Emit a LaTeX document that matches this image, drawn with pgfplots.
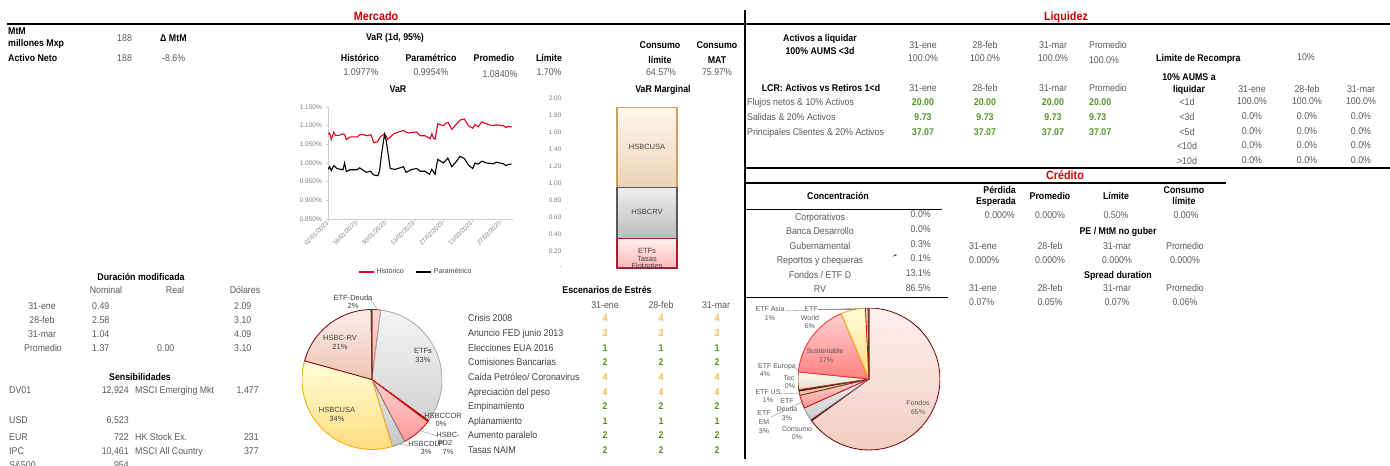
\documentclass[border=0pt]{standalone}
\usepackage{fontspec}
\setmainfont{Liberation Sans}[FakeStretch=0.9]
\newfontfamily\lab{Liberation Sans}
\usepackage{pgfplots}
\usepackage{pgfplotstable}
\pgfplotsset{compat=1.18}
\definecolor{txt}{HTML}{595959}
\definecolor{lbl}{HTML}{404040}
\definecolor{redT}{HTML}{CC0000}
\definecolor{grn}{HTML}{549628}
\definecolor{org}{HTML}{F5B946}
\definecolor{axg}{HTML}{D0D0D0}
\definecolor{tkl}{HTML}{7F7F7F}
\definecolor{histred}{HTML}{E2001A}
\definecolor{usaB}{HTML}{C9A15F}
\definecolor{etfB}{HTML}{A32232}

\pgfplotstableread{
d v
0 1.078
0.8 1.080
1.6 1.063
2.8 1.083
3.6 1.074
5.2 1.074
7.3 1.078
8.1 1.076
8.9 1.063
10.8 1.070
14.1 1.070
15.7 1.076
17.3 1.076
18.9 1.073
20.9 1.076
22.2 1.055
24.1 1.057
25.4 1.070
27.5 1.078
28.3 1.072
29.0 1.063
31.9 1.078
34.3 1.083
36.7 1.087
38.0 1.083
39.2 1.080
40.8 1.082
43.2 1.083
44.8 1.073
47.2 1.073
48.9 1.068
49.7 1.065
50.5 1.078
51.3 1.066
52.1 1.064
53.4 1.105
56.1 1.100
57.8 1.108
58.6 1.108
60.2 1.090
61.8 1.100
64.2 1.115
66.3 1.118
68.3 1.100
70.4 1.093
71.5 1.103
73.1 1.097
74.8 1.110
77.2 1.105
79.6 1.100
82.0 1.102
85.3 1.100
86.6 1.095
87.7 1.098
89.3 1.097
}\histtab

\pgfplotstableread{
d v
0 0.983
0.8 0.990
1.6 0.980
2.8 0.993
4.4 0.985
7.3 0.982
8.1 1.000
8.9 0.977
10.8 0.982
14.1 0.982
15.4 0.987
17.3 0.980
18.6 0.975
20.6 0.978
22.2 0.968
24.3 0.966
25.1 0.980
26.2 1.030
27.5 1.077
28.3 1.060
30.3 0.985
32.7 0.983
36.7 0.990
38.0 0.975
40.8 0.983
43.2 0.985
44.8 0.978
47.2 0.978
49.4 0.970
50.5 0.983
52.1 0.970
53.4 1.010
56.1 1.000
58.3 1.013
60.2 0.990
62.6 1.005
64.2 1.018
66.3 1.012
68.3 0.995
70.4 0.985
71.5 1.000
73.1 0.997
74.8 1.005
77.2 1.000
80.4 0.998
82.0 1.002
85.3 0.998
86.6 0.993
87.7 0.996
89.3 0.997
}\paramtab

% pie slice between cumulative percentages #1 and #2 (clockwise from 12 o'clock)
\newcommand\slice[3]{\addplot[#3, line width=0.8pt, line join=round, domain=90-3.6*#2:90-3.6*#1, samples=40] ({cos(x)},{sin(x)}) -- (0,0) -- cycle;}

\begin{document}
\begin{tikzpicture}
\path[use as bounding box] (0pt,0pt) rectangle (1390pt,-466pt);

% ---------------- VaR line chart
\begin{axis}[at={(328pt,-219pt)}, anchor=south west, scale only axis,
  width=185pt, height=112pt, xmin=0, xmax=90, ymin=0.85, ymax=1.15,
  axis x line*=bottom, axis y line*=left,
  axis line style={axg, line width=0.7pt},
  tick style={axg, line width=0.6pt}, tick align=outside, major tick length=2.5pt,
  ytick={0.85,0.90,0.95,1.00,1.05,1.10,1.15},
  yticklabels={0.850\%,0.900\%,0.950\%,1.000\%,1.050\%,1.100\%,1.150\%},
  xtick={0,14,28,42,56,70,84},
  xticklabels={02/01/2023,16/01/2023,30/01/2023,13/02/2023,27/02/2023,13/03/2023,27/03/2023},
  y tick label style={font=\lab\fontsize{6.6}{7}\selectfont, text=tkl},
  x tick label style={font=\lab\fontsize{6.2}{7}\selectfont, text=tkl, rotate=45, anchor=east, inner sep=1pt},
  legend style={at={(0.476,-0.473)}, anchor=center, draw=none, fill=none,
    legend columns=2, font=\lab\fontsize{7}{8}\selectfont, text=lbl,
    /tikz/every even column/.append style={column sep=10pt}},
  legend image code/.code={\draw[#1] (0pt,0pt) -- (15pt,0pt);}]
\addplot[histred, line width=1.1pt] table[x=d,y=v] {\histtab};
\addlegendentry{Histórico}
\addplot[black, line width=1.1pt] table[x=d,y=v] {\paramtab};
\addlegendentry{Paramétrico}
\end{axis}

% ---------------- VaR Marginal stacked bar
\begin{axis}[at={(565pt,-268pt)}, anchor=south west, scale only axis,
  width=164pt, height=170pt, xmin=-1, xmax=1, ymin=0, ymax=2,
  ybar stacked, bar width=60pt, axis line style={draw=none},
  xtick=\empty, major tick length=0pt,
  ytick={0,0.2,0.4,0.6,0.8,1.0,1.2,1.4,1.6,1.8,2.0},
  yticklabels={-,0.20,0.40,0.60,0.80,1.00,1.20,1.40,1.60,1.80,2.00},
  y tick label style={font=\lab\fontsize{6.5}{7}\selectfont, text=tkl}]
\addplot[draw=etfB, line width=1.1pt, top color=red!6, bottom color=red!28!white] coordinates {(0,0.35)};
\addplot[draw=black!65, line width=1.1pt, top color=black!7, bottom color=black!26] coordinates {(0,0.60)};
\addplot[draw=usaB, line width=1.1pt, top color=orange!7, bottom color=orange!22!brown!35!white] coordinates {(0,0.94)};
\end{axis}

% ---------------- Pie Mercado
\begin{axis}[at={(372pt,-379.5pt)}, anchor=center, scale only axis, hide axis,
  width=140pt, height=140pt, xmin=-1, xmax=1, ymin=-1, ymax=1]
\slice{0}{2}{draw=red!85!black, top color=red!15, bottom color=red!35}
\slice{2}{35}{draw=black!35, top color=black!4, bottom color=black!18}
\slice{35}{35.3}{draw=red!70!black, fill=red!70!black}
\slice{35.3}{42.3}{draw=red!80!black, top color=red!18, bottom color=red!40}
\slice{42.3}{45.3}{draw=black!50, top color=black!8, bottom color=black!22}
\slice{45.3}{79.3}{draw=orange!70!yellow, top color=yellow!15, bottom color=yellow!45!orange!50}
\slice{79.3}{99.8}{draw=red!45!black, top color=red!8!white, bottom color=red!30!brown!35!white}
\slice{99.8}{100}{draw=brown!50!black, fill=brown!50!black}
\end{axis}

% ---------------- Pie Credito
\begin{axis}[at={(869pt,-379pt)}, anchor=center, scale only axis, hide axis,
  width=142pt, height=142pt, xmin=-1, xmax=1, ymin=-1, ymax=1]
\slice{0}{65}{draw=red!45!black, top color=red!6, bottom color=red!28!brown!30!white}
\slice{65}{65.3}{draw=red!40!black, fill=red!40!black}
\slice{65.3}{68.3}{draw=black!45, top color=black!5, bottom color=black!20}
\slice{68.3}{71.3}{draw=red!85!black, top color=red!18, bottom color=red!40}
\slice{71.3}{72.3}{draw=brown!50!black, fill=brown!45}
\slice{72.3}{72.6}{draw=red!50!black, fill=red!50!black}
\slice{72.6}{76.6}{draw=brown!60!black, top color=brown!5, bottom color=brown!30}
\slice{76.6}{93.6}{draw=red!85, top color=red!18, bottom color=red!50}
\slice{93.6}{99.2}{draw=orange!70!yellow, top color=yellow!15, bottom color=yellow!45!orange!50}
\slice{99.2}{99.8}{draw=red!80!black, top color=red!10, bottom color=red!25}
\slice{99.8}{100}{draw=brown!50!black, fill=brown!50!black}
\end{axis}

\begin{scope}[x=1pt, y=-1pt,
  every node/.style={inner sep=0pt, text height=7pt, text depth=2pt, font=\fontsize{9.8}{11}\selectfont, text=txt},
  b/.style={font=\fontsize{9.8}{11}\selectfont\bfseries, text=black},
  w/.style={anchor=west}, e/.style={anchor=east},
  l/.style={text=lbl},
  r/.style={font=\fontsize{12}{13}\selectfont\bfseries, text=redT, text height=8.6pt, text depth=2.5pt},
  G/.style={font=\fontsize{9.8}{11}\selectfont\bfseries, text=grn},
  O/.style={font=\fontsize{9.8}{11}\selectfont\bfseries, text=org},
  s/.style={font=\lab\fontsize{7.5}{8}\selectfont, text height=5.4pt, text depth=1.6pt, text=lbl},
  s2/.style={font=\lab\fontsize{7}{8}\selectfont, text height=5pt, text depth=1.5pt, text=txt}]

% rules
\draw[line width=2.4pt] (7,24) -- (1390,24);
\draw[line width=1.4pt] (745,10) -- (745,459);
\draw[line width=2pt] (745,168) -- (1390,168);
\draw[line width=2pt] (745,183) -- (1226,183);
\draw[line width=0.8pt] (745,209) -- (942,209);
\draw[line width=0.8pt] (745,297) -- (948,297);

% titles
\node[r] at (376,17) {Mercado};
\node[r] at (1066,17) {Liquidez};
\node[r] at (1065,176) {Crédito};

% top-left
\node[b,w] at (8,32) {MtM};
\node[b,w] at (8,44) {millones Mxp};
\node[w] at (117,39) {188};
\node[b,w] at (160,39) {Δ MtM};
\node[b,w] at (8,59) {Activo Neto};
\node[w] at (117,59) {188};
\node[w] at (162,59) {-8.6\%};

% VaR header
\node[b] at (395,38) {VaR (1d, 95\%)};
\node[b] at (360,59) {Histórico};
\node[b] at (431,59) {Paramétrico};
\node[b] at (494,59) {Promedio};
\node[b] at (549,59) {Límite};
\node[b] at (660,46) {Consumo};
\node[b] at (660,61) {límite};
\node[b] at (717,46) {Consumo};
\node[b] at (717,61) {MAT};
\node at (361,73) {1.0977\%};
\node at (431,73) {0.9954\%};
\node at (500,75) {1.0840\%};
\node at (549,73) {1.70\%};
\node at (661,73) {64.57\%};
\node at (717,73) {75.97\%};
\node[b] at (398,90) {VaR};
\node[b] at (663,90) {VaR Marginal};

% bar labels
\node[s] at (647,148) {HSBCUSA};
\node[s] at (647,213) {HSBCRV};
\node[s] at (647,252) {ETFs};
\node[s] at (647,259.5) {Tasas};
\node[s] at (647,267) {Flotantes};

% Duracion modificada
\node[b] at (141,278) {Duración modificada};
\node at (106,291) {Nominal};
\node at (175,291) {Real};
\node at (245,291) {Dólares};
\node at (42,307) {31-ene};
\node at (42,321) {28-feb};
\node at (42,335) {31-mar};
\node at (43,349) {Promedio};
\node[w] at (92,307) {0.49};
\node[w] at (92,321) {2.58};
\node[w] at (92,335) {1.04};
\node[w] at (92,349) {1.37};
\node[w] at (157,349) {0.00};
\node[w] at (234,307) {2.09};
\node[w] at (234,321) {3.10};
\node[w] at (234,335) {4.09};
\node[w] at (234,349) {3.10};

% Sensibilidades
\node[b] at (140,378) {Sensibilidades};
\node[w] at (9,391) {DV01};
\node[e] at (129,391) {12,924};
\node[w] at (135,391) {MSCI Emerging Mkt};
\node[e] at (259,391) {1,477};
\node[w] at (9,421) {USD};
\node[e] at (129,421) {6,523};
\node[w] at (9,438) {EUR};
\node[e] at (129,438) {722};
\node[w] at (135,438) {HK Stock Ex.};
\node[e] at (259,438) {231};
\node[w] at (9,452) {IPC};
\node[e] at (129,452) {10,461};
\node[w] at (135,452) {MSCI All Country};
\node[e] at (259,452) {377};
\node[w] at (9,466) {S\&500};
\node[e] at (129,466) {954};

% Pie Mercado labels
\node[s] at (353,299) {ETF-Deuda};
\node[s] at (353,307) {2\%};
\node[s] at (423,352) {ETFs};
\node[s] at (423,361) {33\%};
\node[s] at (340,339) {HSBC-RV};
\node[s] at (340,348) {21\%};
\node[s] at (337,411) {HSBCUSA};
\node[s] at (337,420) {34\%};
\node[s] at (443,417) {HSBCCOR};
\node[s] at (441,425) {0\%};
\node[s] at (448,436) {HSBC-};
\node[s] at (445,444) {PD2};
\node[s] at (426,445) {HSBCDLP};
\node[s] at (426,453) {3\%};
\node[s] at (448,453) {7\%};
\draw[black!45, line width=0.4pt] (371,300) -- (378,310);
\draw[black!45, line width=0.4pt] (418,430) -- (437,436);
\draw[black!45, line width=0.4pt] (400,444) -- (411,446);

% Escenarios de Estres
\node[b] at (607,291) {Escenarios de Estrés};
\node at (605,306) {31-ene};
\node at (661,306) {28-feb};
\node at (716,306) {31-mar};
\node[w,l] at (468,319) {Crisis 2008};
\node[w,l] at (468,334) {Anuncio FED junio 2013};
\node[w,l] at (468,349) {Elecciones EUA 2016};
\node[w,l] at (468,363) {Comisiones Bancarias};
\node[w,l] at (468,378) {Caída Petróleo/ Coronavirus};
\node[w,l] at (468,393) {Apreciación del peso};
\node[w,l] at (468,407) {Empinamiento};
\node[w,l] at (468,422) {Aplanamiento};
\node[w,l] at (468,436) {Aumento paralelo};
\node[w,l] at (468,451) {Tasas NAIM};
\foreach \yy/\vv/\st in {319/4/O,334/3/O,349/1/G,363/2/G,378/4/O,393/4/O,407/2/G,422/1/G,436/2/G,451/2/G}{
  \node[\st] at (605,\yy) {\vv};
  \node[\st] at (661,\yy) {\vv};
  \node[\st] at (717,\yy) {\vv};
}

% Liquidez
\node[b] at (820,39) {Activos a liquidar};
\node[b] at (820,52) {100\% AUMS <3d};
\node at (923,46) {31-ene};
\node at (985,46) {28-feb};
\node at (1053,46) {31-mar};
\node at (1108,46) {Promedio};
\node at (923,59) {100.0\%};
\node at (985,59) {100.0\%};
\node at (1053,59) {100.0\%};
\node at (1104,61) {100.0\%};
\node[b,w] at (1156,59) {Limite de Recompra};
\node at (1306,58) {10\%};
\node[b] at (1189,78) {10\% AUMS a};
\node[b] at (1189,90) {liquidar};
\node[b] at (821,89) {LCR: Activos vs Retiros 1<d};
\node at (923,89) {31-ene};
\node at (985,89) {28-feb};
\node at (1053,89) {31-mar};
\node at (1108,89) {Promedio};
\node at (1252,90) {31-ene};
\node at (1307,90) {28-feb};
\node at (1361,90) {31-mar};
\node[w] at (747,103) {Flujos netos \& 10\% Activos};
\node[w] at (747,118) {Salidas \& 20\% Activos};
\node[w] at (747,133) {Principales Clientes \& 20\% Activos};
\foreach \yy/\vv in {103/20.00,118/9.73,133/37.07}{
  \node[G] at (923,\yy) {\vv};
  \node[G] at (985,\yy) {\vv};
  \node[G] at (1053,\yy) {\vv};
  \node[G,w] at (1089,\yy) {\vv};
}
\node at (1187,103) {<1d};
\node at (1187,118) {<3d};
\node at (1187,133) {<5d};
\node at (1187,147) {<10d};
\node at (1187,162) {>10d};
\node at (1252,102) {100.0\%};
\node at (1307,102) {100.0\%};
\node at (1361,102) {100.0\%};
\foreach \yy in {117,132,146,161}{
  \node at (1252,\yy) {0.0\%};
  \node at (1307,\yy) {0.0\%};
  \node at (1361,\yy) {0.0\%};
}

% Credito - concentracion
\node[b] at (838,197) {Concentración};
\node at (820,218) {Corporativos};
\node at (820,232) {Banca Desarrollo};
\node at (820,247) {Gubernamental};
\node at (820,261) {Reportos y chequeras};
\node at (820,276) {Fondos / ETF D};
\node at (820,290) {RV};
\node[e] at (931,215) {0.0\%};
\node[e] at (931,230) {0.0\%};
\node[e] at (931,245) {0.3\%};
\node[e] at (931,259) {0.1\%};
\node[e] at (931,274) {13.1\%};
\node[e] at (931,289) {86.5\%};
\fill[green!55!black] (892,256.5) -- (896,254) -- (896.5,255.5) -- cycle;

\node[b,e] at (1016,191) {Pérdida};
\node[b,e] at (1016,202) {Esperada};
\node[b] at (1050,197) {Promedio};
\node[b] at (1116,197) {Límite};
\node[b] at (1184,191) {Consumo};
\node[b] at (1184,202) {límite};
\node[e] at (1015,216) {0.000\%};
\node at (1050,216) {0.000\%};
\node at (1116,216) {0.50\%};
\node at (1186,216) {0.00\%};
\node[b] at (1118,232) {PE / MtM no guber};
\node[w] at (969,247) {31-ene};
\node at (1050,247) {28-feb};
\node at (1117,247) {31-mar};
\node at (1185,247) {Promedio};
\node[w] at (969,261) {0.000\%};
\node at (1050,261) {0.000\%};
\node at (1117,261) {0.000\%};
\node at (1185,261) {0.000\%};
\node[b] at (1118,276) {Spread duration};
\node[w] at (969,289) {31-ene};
\node at (1050,289) {28-feb};
\node at (1117,289) {31-mar};
\node at (1185,289) {Promedio};
\node[w] at (969,303) {0.07\%};
\node at (1050,303) {0.05\%};
\node at (1117,303) {0.07\%};
\node at (1185,303) {0.06\%};

% Pie Credito labels
\draw[black!45, line width=0.4pt] (785,311) -- (866,308);
\draw[black!45, line width=0.4pt] (818,309.5) -- (856,309.5);
\draw[black!45, line width=0.4pt] (795,368) -- (800,372);
\draw[black!45, line width=0.4pt] (778,394) -- (800,393);
\draw[black!45, line width=0.4pt] (771,417) -- (802,402);
\node[s2] at (770,310) {ETF Asia};
\node[s2] at (770,319) {1\%};
\node[s2, fill=white, inner sep=0.5pt] at (811,310) {ETF};
\node[s2] at (810,319) {World};
\node[s2] at (810,327) {6\%};
\node[s2] at (825,352) {Sustentable};
\node[s2] at (826,361) {17\%};
\node[s2] at (777,367) {ETF Europa};
\node[s2] at (765,375) {4\%};
\node[s2] at (789,379) {Tec};
\node[s2] at (790,387) {0\%};
\node[s2] at (768,393) {ETF US};
\node[s2] at (768,401) {1\%};
\node[s2] at (787,402) {ETF};
\node[s2] at (787,410) {Deuda};
\node[s2] at (787,419) {3\%};
\node[s2] at (764,414) {ETF};
\node[s2] at (764,423) {EM};
\node[s2] at (764,432) {3\%};
\node[s2] at (797,430) {Consumo};
\node[s2] at (797,438) {0\%};
\node[s2] at (918,404) {Fondos};
\node[s2] at (918,413) {65\%};
\end{scope}
\end{tikzpicture}
\end{document}
